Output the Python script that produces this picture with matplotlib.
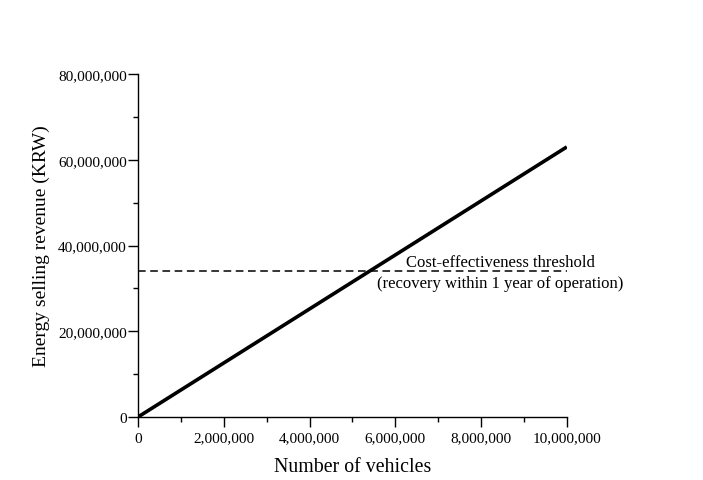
import numpy as np
import matplotlib.pyplot as plt
from matplotlib.ticker import FuncFormatter, MultipleLocator

plt.rcParams['font.family'] = ['Liberation Serif', 'DejaVu Serif']

# data
vehicles = [0, 10_000_000]
revenue = [0, 63_000_000]
threshold = 34_000_000

fig = plt.figure(figsize=(7.03, 4.81), dpi=100)
ax = fig.add_axes([0.1963, 0.131, 0.61, 0.713])

ax.plot(vehicles, revenue, color='black', lw=2.6, solid_capstyle='butt')
ax.plot(vehicles, [threshold, threshold], color='black', lw=1.1, ls=(0, (5, 3)))

ax.text(8_450_000, threshold + 300_000, 'Cost-effectiveness threshold',
        ha='center', va='bottom', fontsize=12)
ax.text(8_450_000, threshold - 800_000, '(recovery within 1 year of operation)',
        ha='center', va='top', fontsize=12)

ax.set_xlim(0, 10_000_000)
ax.set_ylim(0, 80_000_000)
ax.xaxis.set_major_locator(MultipleLocator(2_000_000))
ax.xaxis.set_minor_locator(MultipleLocator(1_000_000))
ax.yaxis.set_major_locator(MultipleLocator(20_000_000))
ax.yaxis.set_minor_locator(MultipleLocator(10_000_000))
fmt = FuncFormatter(lambda v, p: f'{int(v):,}')
ax.xaxis.set_major_formatter(fmt)
ax.yaxis.set_major_formatter(fmt)

for s in ['top', 'right']:
    ax.spines[s].set_visible(False)
for s in ['left', 'bottom']:
    ax.spines[s].set_linewidth(1.0)
ax.tick_params(which='major', direction='out', length=7, width=1.0, labelsize=11)
ax.tick_params(axis='x', which='major', pad=3.5)
ax.tick_params(axis='y', which='major', pad=1)
ax.tick_params(which='minor', direction='out', length=3.8, width=1.0)

ax.set_xlabel('Number of vehicles', fontsize=14.3, labelpad=9)
ax.set_ylabel('Energy selling revenue (KRW)', fontsize=14, labelpad=6)

fig.savefig('out.png', dpi=100)
